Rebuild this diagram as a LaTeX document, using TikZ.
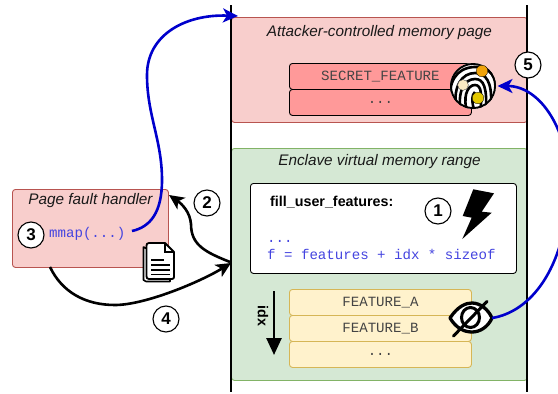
\documentclass[tikz,border=0pt]{standalone}
\usepackage{fontspec}
\setmainfont{Liberation Sans}
\setmonofont{Liberation Mono}
\usetikzlibrary{arrows.meta,calc}
\definecolor{redf}{HTML}{F8CECC}
\definecolor{redd}{HTML}{B85450}
\definecolor{greenf}{HTML}{D5E8D4}
\definecolor{greend}{HTML}{82B366}
\definecolor{yelf}{HTML}{FFF2CC}
\definecolor{yeld}{HTML}{D6B656}
\definecolor{secf}{HTML}{FF9999}
\definecolor{arrowblue}{HTML}{0000CC}
\definecolor{codeblue}{HTML}{4444E0}
\definecolor{monotxt}{HTML}{444444}
\definecolor{dotor}{HTML}{F0A30A}
\definecolor{dotye}{HTML}{E3C800}
\definecolor{dotcr}{HTML}{FBEBC4}
\tikzset{
  panel/.style={draw=#1,rounded corners=3pt,line width=0.9pt,inner sep=0pt,anchor=north west},
  cell/.style={draw=#1,rounded corners=3pt,line width=0.9pt,inner sep=0pt,anchor=north west,minimum width=182pt,minimum height=26pt,text=monotxt,font=\fontsize{14.1}{15}\selectfont\ttfamily},
  numcirc/.style={circle,draw=black,fill=white,line width=1.1pt,minimum size=26pt,inner sep=0pt,font=\fontsize{17}{18}\selectfont\bfseries},
  ttl/.style={font=\fontsize{15.3}{17}\selectfont\itshape,inner sep=0pt,text=black!90},
  codetxt/.style={font=\fontsize{14.1}{15}\selectfont\ttfamily,text=codeblue,inner sep=0pt,anchor=base west},
  bluearr/.style={draw=arrowblue,line width=2.6pt},
  blackarr/.style={draw=black,line width=2.6pt},
  tipb/.style={-{Stealth[length=15pt,width=14pt,inset=4pt]}},
  vline/.style={draw=black,line width=1.9pt},
}
\begin{document}
\begin{tikzpicture}[x=1pt,y=-1pt]
\useasboundingbox (0,0) rectangle (558,394);
\clip (0,0) rectangle (558,394);
% panels
\node[panel=redd,fill=redf,minimum width=296pt,minimum height=105pt] (attacker) at (231,17) {};
\node[panel=greend,fill=greenf,minimum width=296pt,minimum height=232pt] (enclave) at (231,148) {};
\node[panel=redd,fill=redf,minimum width=156pt,minimum height=78pt] (handler) at (12,189) {};
% vertical lines
\coordinate (ltop) at (231,5); \coordinate (lbot) at (231,392);
\coordinate (rtop) at (527,5); \coordinate (rbot) at (527,392);
\draw[vline] (ltop) -- (lbot);
\draw[vline] (rtop) -- (rbot);
% titles
\node[ttl] (t1) at (379.5,33) {Attacker-controlled memory page};
\node[ttl] (t2) at (379.5,162) {Enclave virtual memory range};
\node[ttl] (t3) at (90.5,201) {Page fault handler};
% secret cells
\node[cell=black,fill=secf] (secret) at (289,63) {SECRET\_FEATURE};
\node[cell=black,fill=secf] (secdots) at (289,89) {...};
% white code box
\node[panel=black,fill=white,minimum width=266pt,minimum height=90pt] (code) at (250,183) {};
\node[font=\fontsize{14.3}{16}\selectfont\bfseries,inner sep=0pt,anchor=base west] (fname) at (270,206) {fill\_user\_features:};
\node[codetxt] (cdots) at (267,242) {...};
\node[codetxt] (cline) at (267,259) {f = features + idx * sizeof};
% lightning
\fill[black] (473.3,189.3) -- (494,193.3) -- (481.7,211.7) -- (491.7,212.7) -- (462.3,239) -- (471.7,217.7) -- (462.7,216) -- cycle;
% feature cells
\node[cell=yeld,fill=yelf] (fa) at (289,289) {FEATURE\_A};
\node[cell=yeld,fill=yelf] (fb) at (289,315) {FEATURE\_B};
\node[cell=yeld,fill=yelf] (fc) at (289,341) {...};
% idx
\coordinate (idxa) at (274,291); \coordinate (idxb) at (274,355);
\draw[blackarr,-{Stealth[length=17pt,width=15pt,inset=0pt]}] (idxa) -- (idxb);
\node[rotate=-90,font=\fontsize{14.3}{16}\selectfont\bfseries,inner sep=0pt] (idxl) at (263,316) {idx};
% fingerprint
\begin{scope}
\fill[white] (473,86) circle (23);
\clip (473,86) circle (23);
\draw[line width=2.8pt] (473,86) circle (22.5);
\draw[line width=2.6pt] (450,104) .. controls (448,82) and (456,68) .. (474,67) .. controls (490,66) and (498,78) .. (498,96);
\draw[line width=2.6pt] (456,108) .. controls (453,86) and (462,73) .. (475,73) .. controls (486,73) and (492,82) .. (491,103);
\draw[line width=2.6pt] (461,112) .. controls (457,92) and (464,79) .. (475,79) .. controls (484,79) and (487,88) .. (486,110);
\draw[line width=2.6pt] (468,114) .. controls (462,98) and (467,85) .. (475,85) .. controls (482,85) and (482,96) .. (480,114);
\draw[line width=2.6pt] (475,112) .. controls (471,102) and (472,94) .. (475,92);
\end{scope}
\draw[black,line width=0.3pt,fill=dotor] (482,71) circle (5.8);
\draw[black!70,line width=0.4pt,fill=dotcr] (463,85) circle (5.4);
\draw[black,line width=0.3pt,fill=dotye] (478,98) circle (5.8);
\coordinate (fpE) at (497.5,86);
% eye
\draw[black,line width=3.3pt,fill=white,line join=round] (450,318) .. controls (458,306) and (466,303) .. (472,303) .. controls (480,303) and (488,309) .. (492,318) .. controls (488,327) and (480,332) .. (472,332) .. controls (464,332) and (456,328) .. cycle;
\draw[black,line width=3pt] (470.5,317.5) ellipse (9 and 10);
\draw[black,line width=3pt,line cap=round] (453.5,336) -- (487,301.5);
\coordinate (eyeE) at (492,318);
% document icon
\draw[black,line width=1.6pt,fill=white,line join=round] (143.5,247) -- (143.5,280) -- (146,281.5) -- (170,281.5) -- (170,260) -- cycle;
\draw[black,line width=1.8pt,fill=white,line join=round] (146.5,246) .. controls (146.5,244) and (147,243) .. (149,243) -- (165,243) -- (174,252) -- (174,277) .. controls (174,278) and (173.5,279) .. (172,279) -- (149,279) .. controls (147,279) and (146.5,278) .. (146.5,276) -- cycle;
\draw[black,line width=1.3pt] (165,243) -- (165,252) -- (174,252);
\draw[black,line width=1.6pt] (151,260) -- (164,260) (151,265) -- (170,265) (151,270) -- (170,270) (151,274.5) -- (170,274.5);
% handler code
\node[codetxt] (mmap) at (49,237) {mmap(...)};
% connectors
\coordinate (mmapE) at (132,231);
\coordinate (a2) at (238,16);
\draw[bluearr,tipb] (mmapE) .. controls (150,227) and (162,213) .. (162,180) .. controls (162,140) and (147,115) .. (147,75) .. controls (147,35) and (185,14) .. (a2);
\coordinate (g2) at (230,262);
\coordinate (h2) at (169,195);
\draw[blackarr,tipb] (g2) .. controls (205,252) and (191,245) .. (191,224) .. controls (190,212) and (182,204) .. (h2);
\coordinate (h4) at (50,267);
\coordinate (g4) at (231,263);
\draw[blackarr,tipb] (h4) .. controls (62,292) and (85,305) .. (115,305) .. controls (145,305) and (200,282) .. (g4);
\draw[bluearr,tipb] (eyeE) .. controls (530,312) and (565,270) .. (569,190) .. controls (570,130) and (540,86) .. (fpE);
% numbered circles
\node[numcirc] (n1) at (438,211) {1};
\node[numcirc] (n2) at (207,203) {2};
\node[numcirc] (n3) at (31,235) {3};
\node[numcirc] (n4) at (166,319) {4};
\node[numcirc] (n5) at (528,65) {5};
\end{tikzpicture}
\end{document}
